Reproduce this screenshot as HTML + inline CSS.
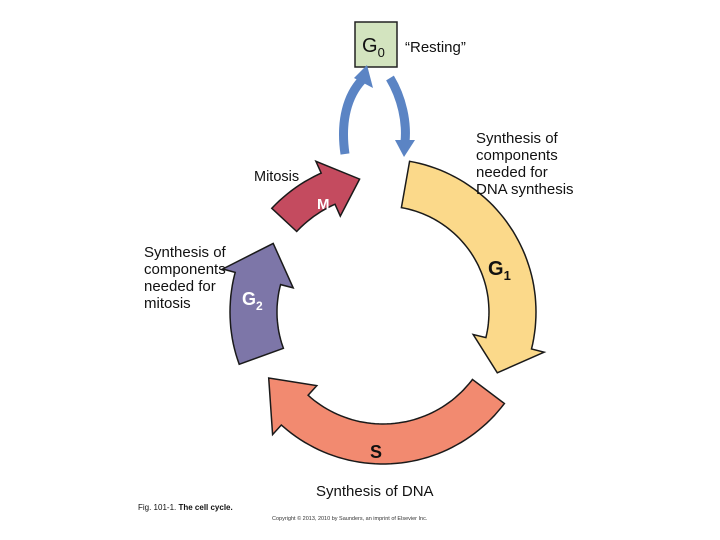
<!DOCTYPE html>
<html><head><meta charset="utf-8"><style>
body{margin:0;background:#fff;}
svg{display:block;font-family:"Liberation Sans",sans-serif;}
</style></head><body>
<svg id="s" width="720" height="540" viewBox="0 0 720 540">
<rect x="355" y="22" width="42" height="45" fill="#d3e4bf" stroke="#222" stroke-width="1.5"/>
<text x="362" y="52" font-size="20" fill="#111">G<tspan font-size="13" dy="5">0</tspan></text>
<text x="405" y="52" font-size="15" fill="#111">“Resting”</text>
<path d="M345,154 C340,120 348,95 362,80" fill="none" stroke="#5b84c4" stroke-width="9"/>
<polygon points="354,78 367,65 373,88" fill="#5b84c4"/>
<path d="M390,78 C402,98 407,122 405,142" fill="none" stroke="#5b84c4" stroke-width="9"/>
<polygon points="395,140 415,140 404,157" fill="#5b84c4"/>
<g id="arcs" stroke="#1a1a1a" stroke-width="1.5"></g>
<text x="254" y="181" font-size="14.5" fill="#111">Mitosis</text>
<text x="317" y="209" font-size="15" font-weight="bold" fill="#fff">M</text>
<text x="476" y="143" font-size="15" fill="#111">Synthesis of</text>
<text x="476" y="160" font-size="15" fill="#111">components</text>
<text x="476" y="177" font-size="15" fill="#111">needed for</text>
<text x="476" y="194" font-size="15" fill="#111">DNA synthesis</text>
<text x="488" y="275" font-size="20" font-weight="bold" fill="#111">G<tspan font-size="13" dy="5">1</tspan></text>
<text x="144" y="257" font-size="15" fill="#111">Synthesis of</text>
<text x="144" y="274" font-size="15" fill="#111">components</text>
<text x="144" y="291" font-size="15" fill="#111">needed for</text>
<text x="144" y="308" font-size="15" fill="#111">mitosis</text>
<text x="242" y="305" font-size="18" font-weight="bold" fill="#fff">G<tspan font-size="12" dy="5">2</tspan></text>
<text x="370" y="458" font-size="18" font-weight="bold" fill="#111">S</text>
<text x="316" y="496" font-size="15" fill="#111">Synthesis of DNA</text>
<text x="138" y="510" font-size="8" fill="#111">Fig. 101-1. <tspan font-weight="bold">The cell cycle.</tspan></text>
<text x="272" y="520" font-size="5.5" fill="#333">Copyright © 2013, 2010 by Saunders, an imprint of Elsevier Inc.</text>
</svg>
<script>
var cx=383,cy=312;
function P(r,a){a=a*Math.PI/180;return (cx+r*Math.sin(a)).toFixed(1)+","+(cy-r*Math.cos(a)).toFixed(1);}
function arc(a0,ah,a1,ri,ro,col){
 var d="M"+P(ro,a0);
 for(var a=a0;a<=ah;a+=2)d+=" L"+P(ro,a);
 d+=" L"+P(ro,ah)+" L"+P(ro+13,ah)+" L"+P((ri+ro)/2,a1)+" L"+P(ri-13,ah)+" L"+P(ri,ah);
 for(var a=ah;a>=a0;a-=2)d+=" L"+P(ri,a);
 d+=" L"+P(ri,a0)+" Z";
 var p=document.createElementNS("http://www.w3.org/2000/svg","path");
 p.setAttribute("d",d);p.setAttribute("fill",col);
 document.getElementById("arcs").appendChild(p);
}
arc(10,104,118,106,153,"#fbd98a");
arc(127,222,240,112,152,"#f28a70");
arc(250,285,302,106,153,"#7d76a8");
arc(313,336,350,118,152,"#c44b5f");
</script>
</body></html>
